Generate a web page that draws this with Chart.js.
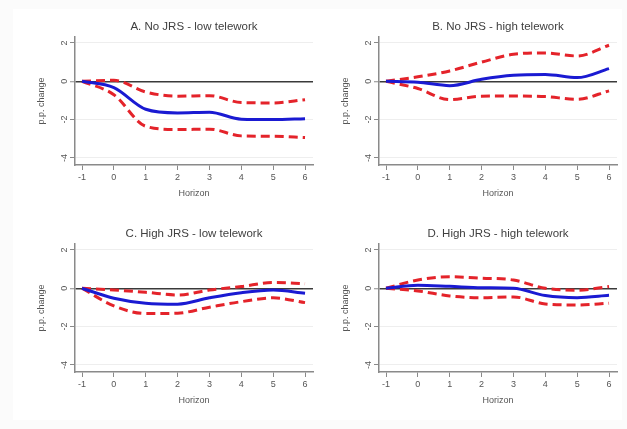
<!DOCTYPE html>
<html>
<head>
<meta charset="utf-8">
<script src="https://cdn.jsdelivr.net/npm/chart.js@4/dist/chart.umd.min.js"></script>
<style>
  html, body { margin: 0; padding: 0; width: 627px; height: 429px; overflow: hidden; background: #fbfbfb; }
  #frame { position: absolute; left: 13px; top: 9px; width: 609px; height: 411px; background: #ffffff; }
  .panel { position: absolute; width: 300px; height: 200px; }
  .panel canvas { display: block; }
</style>
</head>
<body>
<div id="frame"></div>
<div class="panel" style="left:20px;top:10px"><canvas id="pA" width="300" height="200"></canvas></div>
<div class="panel" style="left:324px;top:10px"><canvas id="pB" width="300" height="200"></canvas></div>
<div class="panel" style="left:20px;top:217px"><canvas id="pC" width="300" height="200"></canvas></div>
<div class="panel" style="left:324px;top:217px"><canvas id="pD" width="300" height="200"></canvas></div>
<script>
// Horizons and axis ticks
const horizon = [-1, 0, 1, 2, 3, 4, 5, 6];
const yTicks = [-4, -2, 0, 2];
const yTitle = 'p.p. change';
const xTitle = 'Horizon';

const titles = [
  'A. No JRS - low telework',
  'B. No JRS - high telework',
  'C. High JRS - low telework',
  'D. High JRS - high telework'
];

// Point estimates and confidence bands (percentage points)
const estA   = [0, -0.33, -1.46, -1.65, -1.62, -1.98, -2.00, -1.95];
const upperA = [0,  0.05, -0.56, -0.78, -0.75, -1.11, -1.13, -0.96];
const lowerA = [0, -0.70, -2.35, -2.52, -2.50, -2.85, -2.87, -2.94];

const estB   = [0, -0.05, -0.23,  0.10,  0.31,  0.35,  0.19,  0.66];
const upperB = [0,  0.23,  0.54,  1.00,  1.41,  1.48,  1.32,  1.88];
const lowerB = [0, -0.38, -0.96, -0.78, -0.77, -0.80, -0.94, -0.50];

const estC   = [0, -0.52, -0.78, -0.83, -0.50, -0.23, -0.09, -0.26];
const upperC = [0, -0.09, -0.21, -0.35, -0.09,  0.09,  0.30,  0.23];
const lowerC = [0, -0.92, -1.32, -1.30, -0.99, -0.70, -0.50, -0.75];

const estD   = [0,  0.16,  0.10,  0.03,  0.00, -0.38, -0.49, -0.37];
const upperD = [0,  0.43,  0.60,  0.53,  0.43,  0.00, -0.10,  0.09];
const lowerD = [0, -0.14, -0.40, -0.49, -0.45, -0.82, -0.87, -0.78];

const FONT = "'Liberation Sans', Arial, sans-serif";
const AXIS_GREY = '#8a8a8a';
const TEXT_GREY = '#555555';
const BLUE = '#1a1ad2';
const RED = '#e4232a';

function pts(vals) {
  return horizon.map((h, i) => ({ x: h, y: vals[i] }));
}

function bandLine(vals) {
  return {
    data: pts(vals),
    borderColor: RED,
    borderWidth: 3,
    borderDash: [9, 5],
    pointRadius: 0,
    fill: false,
    cubicInterpolationMode: 'monotone'
  };
}

function makePanel(id, title, est, upper, lower) {
  new Chart(document.getElementById(id), {
    type: 'line',
    data: {
      datasets: [
        {
          data: pts(est),
          borderColor: BLUE,
          borderWidth: 3,
          pointRadius: 0,
          fill: false,
          cubicInterpolationMode: 'monotone'
        },
        bandLine(upper),
        bandLine(lower)
      ]
    },
    options: {
      responsive: false,
      animation: false,
      devicePixelRatio: 1,
      layout: { padding: { left: 0, right: 7, top: 0, bottom: 0 } },
      plugins: {
        legend: { display: false },
        tooltip: { enabled: false },
        title: {
          display: true,
          text: title,
          fullSize: false,
          color: '#404040',
          font: { family: FONT, size: 11.5, weight: 'normal', lineHeight: 1.2 },
          padding: { top: 10, bottom: 3.2 }
        }
      },
      scales: {
        x: {
          type: 'linear',
          min: -1.22,
          max: 6.25,
          afterBuildTicks: (s) => { s.ticks = horizon.map(v => ({ value: v })); },
          afterFit: (s) => { s.height = 45; },
          border: { display: true, color: AXIS_GREY, width: 1.5 },
          grid: { drawOnChartArea: false, drawTicks: true, tickLength: 5, tickColor: AXIS_GREY, tickWidth: 1 },
          ticks: { color: TEXT_GREY, font: { family: FONT, size: 9 }, padding: 2, maxRotation: 0 },
          title: {
            display: true, text: xTitle, color: TEXT_GREY,
            font: { family: FONT, size: 9, lineHeight: 1.2 },
            padding: { top: 0, bottom: 10.6 }
          }
        },
        y: {
          type: 'linear',
          min: -4.37,
          max: 2.31,
          afterBuildTicks: (s) => { s.ticks = yTicks.map(v => ({ value: v })); },
          afterFit: (s) => { s.width = 55; },
          border: { display: true, color: AXIS_GREY, width: 1.5 },
          grid: {
            drawOnChartArea: true,
            drawTicks: true,
            tickLength: 5,
            tickColor: AXIS_GREY,
            tickWidth: 1,
            color: (c) => (c.tick && c.tick.value === 0) ? '#3a3a3a' : '#eeeeee',
            lineWidth: (c) => (c.tick && c.tick.value === 0) ? 1.5 : 1
          },
          ticks: {
            color: TEXT_GREY, font: { family: FONT, size: 9 },
            minRotation: 90, maxRotation: 90, crossAlign: 'center', padding: 1
          },
          title: {
            display: true, text: yTitle, color: TEXT_GREY,
            font: { family: FONT, size: 9, lineHeight: 1.2 },
            padding: { top: 16.6, bottom: 0 }
          }
        }
      }
    }
  });
}

makePanel('pA', titles[0], estA, upperA, lowerA);
makePanel('pB', titles[1], estB, upperB, lowerB);
makePanel('pC', titles[2], estC, upperC, lowerC);
makePanel('pD', titles[3], estD, upperD, lowerD);
</script>
</body>
</html>
